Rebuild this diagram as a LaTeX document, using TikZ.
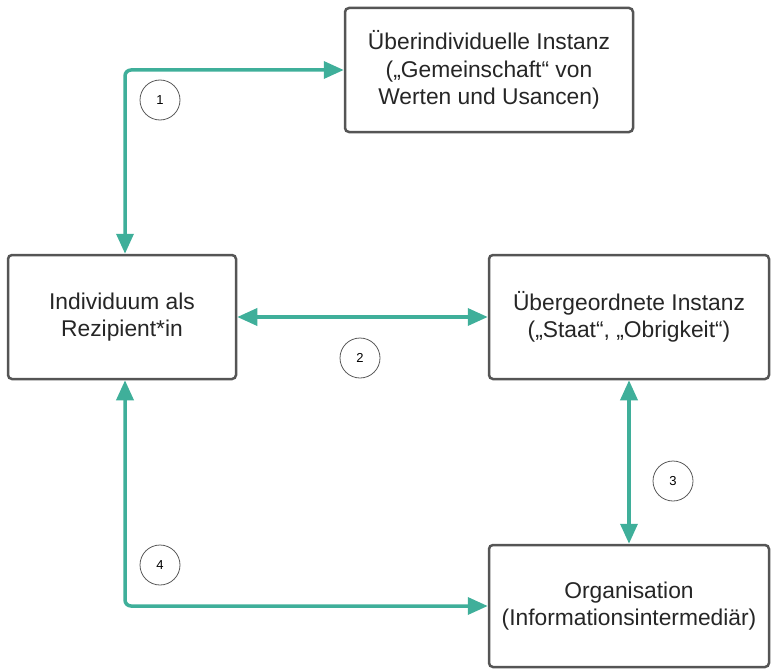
\documentclass[tikz,border=0pt]{standalone}
\usepackage{fontspec}
\setmainfont{Liberation Sans}
\usetikzlibrary{arrows.meta}
\definecolor{linkteal}{HTML}{3FAF9A}
\definecolor{boxgray}{HTML}{555555}

\begin{document}
\begin{tikzpicture}[x=1pt, y=-1pt,
    instanz/.style={rectangle, rounded corners=4pt, draw=boxgray, line width=2.5pt,
        fill=white, align=center, text=black!85,
        font=\fontsize{22.8}{27.5}\selectfont},
    link/.style={draw=linkteal, line width=3.5pt, rounded corners=6pt,
        {Triangle[length=20pt,width=17pt]}-{Triangle[length=20pt,width=17pt]}},
    nummer/.style={circle, draw=black!65, line width=0.8pt, minimum size=40pt,
        inner sep=0pt, font=\fontsize{13}{15}\selectfont}
]
    \useasboundingbox (0,0) rectangle (771,669);
    \node[instanz, minimum width=288pt, minimum height=124pt] (ueber) at (489,70)
        {Überindividuelle Instanz\\(„Gemeinschaft“ von\\Werten und Usancen)};
    \node[instanz, minimum width=228pt, minimum height=124pt] (indiv) at (122,317)
        {Individuum als\\Rezipient*in};
    \node[instanz, minimum width=280pt, minimum height=124pt] (staat) at (629,317)
        {Übergeordnete Instanz\\(„Staat“, „Obrigkeit“)};
    \node[instanz, minimum width=280pt, minimum height=122pt] (orga) at (629,606)
        {Organisation\\(Informationsintermediär)};
    \draw[link] (ueber.west) -| ([xshift=3pt]indiv.north);
    \draw[link] (indiv.east) -- (staat.west);
    \draw[link] (staat.south) -- (orga.north);
    \draw[link] ([xshift=3pt]indiv.south) |- (orga.west);
    \node[nummer] (n1) at (160,100) {1};
    \node[nummer] (n2) at (360,358) {2};
    \node[nummer] (n3) at (673,481) {3};
    \node[nummer] (n4) at (160,565) {4};
\end{tikzpicture}
\end{document}
